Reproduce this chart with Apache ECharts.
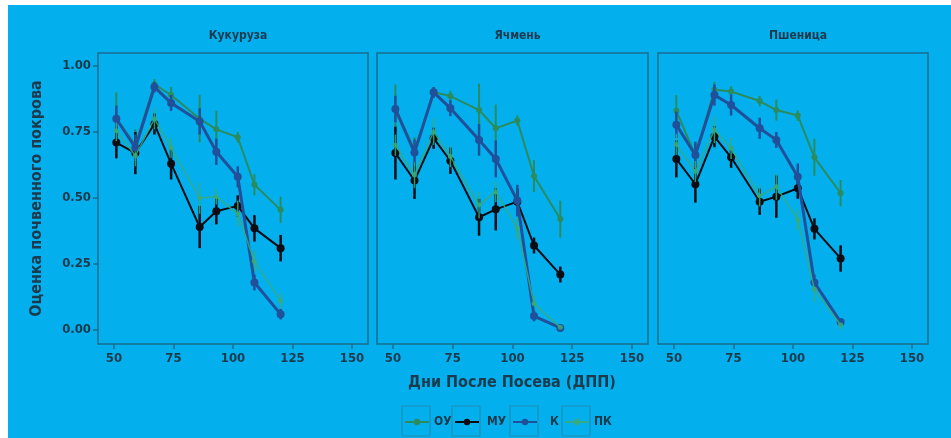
<!DOCTYPE html>
<html><head><meta charset="utf-8">
<script src="https://cdn.jsdelivr.net/npm/echarts@6/dist/echarts.min.js"></script>
<style>html,body{margin:0;padding:0;background:#fff}#c{width:951px;height:438px}</style>
</head><body><div id="c"></div>
<script>
// ---- data ----
const panels = ['Кукуруза', 'Ячмень', 'Пшеница'];
const groups = ['ОУ', 'МУ', 'К', 'ПК'];
const days = [51, 59, 67, 74, 86, 93, 102, 109, 120];
const xTicks = [50, 75, 100, 125, 150];
const yTicks = [0, 0.25, 0.5, 0.75, 1.0];

// Кукуруза
const kukuruzaOU = [0.80, 0.70, 0.93, 0.89, 0.80, 0.76, 0.73, 0.55, 0.455];
const kukuruzaMU = [0.71, 0.67, 0.78, 0.63, 0.39, 0.45, 0.47, 0.385, 0.31];
const kukuruzaK  = [0.80, 0.69, 0.92, 0.86, 0.79, 0.675, 0.58, 0.18, 0.06];
const kukuruzaPK = [0.755, 0.66, 0.80, 0.69, 0.50, 0.505, 0.44, 0.26, 0.11];
const kukuruzaOUerr = [0.10, 0.06, 0.02, 0.03, 0.09, 0.07, 0.02, 0.04, 0.05];
const kukuruzaMUerr = [0.06, 0.08, 0.04, 0.06, 0.08, 0.05, 0.04, 0.05, 0.05];
const kukuruzaKerr  = [0.05, 0.05, 0.02, 0.03, 0.05, 0.05, 0.04, 0.03, 0.02];
const kukuruzaPKerr = [0.04, 0.04, 0.04, 0.04, 0.06, 0.03, 0.05, 0.04, 0.03];

// Ячмень
const yachmenOU = [0.84, 0.68, 0.90, 0.886, 0.833, 0.764, 0.793, 0.583, 0.42];
const yachmenMU = [0.67, 0.566, 0.726, 0.641, 0.427, 0.457, 0.486, 0.32, 0.21];
const yachmenK  = [0.837, 0.672, 0.90, 0.84, 0.72, 0.648, 0.49, 0.053, 0.008];
const yachmenPK = [0.70, 0.587, 0.751, 0.657, 0.473, 0.524, 0.385, 0.10, 0.01];
const yachmenOUerr = [0.09, 0.05, 0.02, 0.02, 0.10, 0.09, 0.02, 0.06, 0.07];
const yachmenMUerr = [0.10, 0.07, 0.04, 0.05, 0.07, 0.08, 0.05, 0.03, 0.03];
const yachmenKerr  = [0.05, 0.05, 0.02, 0.03, 0.06, 0.07, 0.06, 0.02, 0.01];
const yachmenPKerr = [0.04, 0.05, 0.05, 0.04, 0.05, 0.04, 0.04, 0.03, 0.01];

// Пшеница
const pshenitsaOU = [0.83, 0.66, 0.91, 0.903, 0.867, 0.833, 0.812, 0.654, 0.518];
const pshenitsaMU = [0.648, 0.552, 0.732, 0.654, 0.486, 0.505, 0.537, 0.383, 0.271];
const pshenitsaK  = [0.777, 0.663, 0.89, 0.852, 0.764, 0.72, 0.58, 0.18, 0.03];
const pshenitsaPK = [0.703, 0.60, 0.758, 0.688, 0.508, 0.543, 0.417, 0.154, 0.019];
const pshenitsaOUerr = [0.06, 0.05, 0.03, 0.02, 0.02, 0.04, 0.02, 0.07, 0.05];
const pshenitsaMUerr = [0.07, 0.07, 0.04, 0.04, 0.05, 0.08, 0.04, 0.04, 0.05];
const pshenitsaKerr  = [0.05, 0.05, 0.04, 0.04, 0.04, 0.03, 0.05, 0.03, 0.01];
const pshenitsaPKerr = [0.04, 0.04, 0.05, 0.04, 0.04, 0.05, 0.04, 0.05, 0.02];

// ---- assembly ----
const panelValues = [
  [kukuruzaOU, kukuruzaMU, kukuruzaK, kukuruzaPK],
  [yachmenOU, yachmenMU, yachmenK, yachmenPK],
  [pshenitsaOU, pshenitsaMU, pshenitsaK, pshenitsaPK]
];
const panelErrors = [
  [kukuruzaOUerr, kukuruzaMUerr, kukuruzaKerr, kukuruzaPKerr],
  [yachmenOUerr, yachmenMUerr, yachmenKerr, yachmenPKerr],
  [pshenitsaOUerr, pshenitsaMUerr, pshenitsaKerr, pshenitsaPKerr]
];

const BG = '#04AFEE';
const BORDER = '#1a6e8e';
const TXT = '#1b3a4c';
const FONT = "'Liberation Sans Narrow', 'DejaVu Sans Condensed', Arial, sans-serif";
const colors = ['#2a8c5e', '#0c0c12', '#21509a', 'rgba(58,170,120,0.85)'];
const lineW = [2, 2, 3, 1.5];
const symS = [6, 8, 8, 5];
const errW = [2, 2.5, 2.5, 1.5];

const gridBoxes = [
  {left: 98, top: 53, width: 270, height: 291},
  {left: 377, top: 53, width: 271, height: 291},
  {left: 658, top: 53, width: 270, height: 291}
];

const grid = gridBoxes.map(g => Object.assign({show: true, borderColor: BORDER, borderWidth: 1.5, backgroundColor: 'transparent'}, g));

const xAxis = gridBoxes.map((g, i) => ({
  type: 'value', gridIndex: i, min: 43.3, max: 156.7, position: 'bottom',
  axisLine: {show: false, onZero: false},
  splitLine: {show: false},
  axisTick: {show: true, customValues: xTicks, length: 5, lineStyle: {color: BORDER, width: 1.5}},
  axisLabel: {customValues: xTicks, margin: 8, color: TXT, fontFamily: FONT, fontWeight: 'bold', fontSize: 13}
}));

const yAxis = gridBoxes.map((g, i) => ({
  type: 'value', gridIndex: i, min: -0.053, max: 1.049, position: 'left',
  axisLine: {show: false, onZero: false},
  splitLine: {show: false},
  axisTick: {show: i === 0, customValues: yTicks, length: 5, lineStyle: {color: BORDER, width: 1.5}},
  axisLabel: {show: i === 0, customValues: yTicks, margin: 7, color: TXT, fontFamily: FONT, fontWeight: 'bold', fontSize: 13,
    formatter: v => v.toFixed(2)},
  name: i === 0 ? 'Оценка почвенного покрова' : '',
  nameLocation: 'middle', nameRotate: 90, nameGap: 53,
  nameTextStyle: {color: TXT, fontFamily: FONT, fontWeight: 'bold', fontSize: 16}
}));

const series = [];
panelValues.forEach((vals, p) => {
  vals.forEach((arr, gi) => {
    const err = panelErrors[p][gi];
    series.push({
      type: 'custom', name: 'err-' + groups[gi], xAxisIndex: p, yAxisIndex: p, z: 2 + gi,
      data: days.map((d, k) => [d, arr[k] - err[k], arr[k] + err[k]]),
      encode: {x: 0, y: [1, 2]},
      itemStyle: {color: colors[gi]},
      renderItem: (params, api) => {
        const a = api.coord([api.value(0), api.value(1)]);
        const b = api.coord([api.value(0), api.value(2)]);
        return {type: 'line', shape: {x1: a[0], y1: a[1], x2: b[0], y2: b[1]},
          style: {stroke: colors[gi], lineWidth: errW[gi]}};
      },
      silent: true
    });
    series.push({
      type: 'line', name: groups[gi], xAxisIndex: p, yAxisIndex: p, z: 3 + gi,
      data: days.map((d, k) => [d, arr[k]]),
      symbol: 'circle', symbolSize: symS[gi],
      lineStyle: {color: colors[gi], width: lineW[gi]},
      itemStyle: {color: colors[gi]},
      animation: false
    });
  });
});

const legendLefts = [404, 454, 512, 564];
const legend = groups.map((g, i) => ({
  data: [g], left: legendLefts[i], top: 416, padding: 0, itemWidth: 24, itemHeight: 8,
  textStyle: {color: TXT, fontFamily: FONT, fontWeight: 'bold', fontSize: 12,
    padding: i === 2 ? [0, 0, 0, 8] : (i === 1 ? [0, 0, 0, 3] : 0)},
  selectedMode: false
}));

const title = panels.map((t, i) => ({
  text: t, left: gridBoxes[i].left + gridBoxes[i].width / 2, top: 25, textAlign: 'center',
  textStyle: {color: TXT, fontFamily: FONT, fontWeight: 'bold', fontSize: 12}
}));

const graphic = [
  {type: 'rect', left: 0, top: 0, shape: {width: 8, height: 438}, style: {fill: '#ffffff'}, silent: true},
  {type: 'rect', left: 0, top: 0, shape: {width: 951, height: 5}, style: {fill: '#ffffff'}, silent: true},
  {type: 'text', x: 512, y: 383, style: {text: 'Дни После Посева (ДПП)', fill: TXT, align: 'center', verticalAlign: 'middle',
    font: "bold 16px 'Liberation Sans Narrow', 'DejaVu Sans Condensed', Arial, sans-serif"}},
].concat(legendLefts.map(l => ({
  type: 'rect', shape: {x: l - 2, y: 406, width: 28, height: 30},
  style: {fill: 'transparent', stroke: '#1f8fb5', lineWidth: 1.2}, silent: true, z: -1
})));

const chart = echarts.init(document.getElementById('c'), null, {renderer: 'canvas'});
chart.setOption({
  backgroundColor: BG,
  animation: false,
  title, legend, grid, xAxis, yAxis, series, graphic
});
</script></body></html>
